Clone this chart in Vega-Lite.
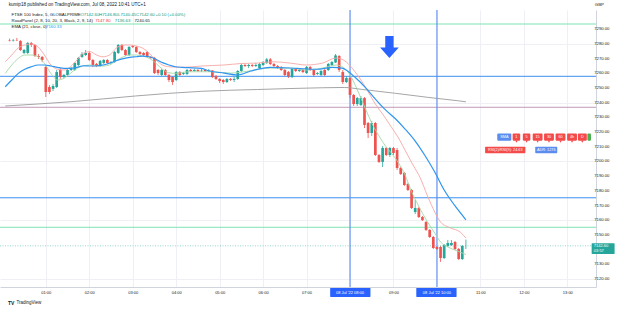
{
"$schema": "https://vega.github.io/schema/vega-lite/v6.json",
"width": 596, "height": 277,
"autosize": "none",
"padding": {"left": 0, "top": 10, "right": 29, "bottom": 23},
"background": "#ffffff",
"config": {"font": "Liberation Sans", "view": {"stroke": null}},
"resolve": {"scale": {"color": "independent"}},
"datasets": {
"candles": [
{"t":10,"o":7282.7,"h":7283.7,"l":7281.7,"c":7282.4},
{"t":15,"o":7282.4,"h":7283.4,"l":7281.7,"c":7282.7},
{"t":20,"o":7282.7,"h":7284.1,"l":7282.0,"c":7282.6},
{"t":25,"o":7282.0,"h":7282.7,"l":7275.2,"c":7275.9},
{"t":30,"o":7273.9,"h":7276.6,"l":7273.2,"c":7275.9},
{"t":35,"o":7273.9,"h":7281.4,"l":7273.2,"c":7280.7},
{"t":40,"o":7280.7,"h":7281.4,"l":7277.9,"c":7279.3},
{"t":45,"o":7279.3,"h":7280.0,"l":7271.2,"c":7271.8},
{"t":50,"o":7271.8,"h":7273.2,"l":7269.8,"c":7271.2},
{"t":55,"o":7271.2,"h":7271.8,"l":7267.7,"c":7269.1},
{"t":60,"o":7264.3,"h":7265.0,"l":7243.9,"c":7247.3},
{"t":65,"o":7250.7,"h":7252.1,"l":7245.9,"c":7247.3},
{"t":70,"o":7249.4,"h":7252.8,"l":7248.0,"c":7251.4},
{"t":75,"o":7250.7,"h":7262.3,"l":7250.0,"c":7260.9},
{"t":80,"o":7262.3,"h":7263.6,"l":7256.2,"c":7257.5},
{"t":85,"o":7257.5,"h":7259.6,"l":7256.8,"c":7258.9},
{"t":90,"o":7258.9,"h":7263.0,"l":7258.2,"c":7262.3},
{"t":95,"o":7262.3,"h":7264.3,"l":7261.6,"c":7263.0},
{"t":100,"o":7262.3,"h":7267.7,"l":7261.6,"c":7267.1},
{"t":105,"o":7265.7,"h":7271.2,"l":7265.0,"c":7270.5},
{"t":110,"o":7271.2,"h":7274.5,"l":7270.5,"c":7273.2},
{"t":115,"o":7272.5,"h":7275.9,"l":7271.8,"c":7273.9},
{"t":120,"o":7273.9,"h":7275.2,"l":7268.4,"c":7269.1},
{"t":125,"o":7269.1,"h":7269.8,"l":7264.3,"c":7265.7},
{"t":130,"o":7266.4,"h":7267.1,"l":7264.3,"c":7265.0},
{"t":135,"o":7265.0,"h":7269.1,"l":7264.3,"c":7268.4},
{"t":140,"o":7267.1,"h":7269.8,"l":7266.4,"c":7269.1},
{"t":145,"o":7269.1,"h":7269.8,"l":7266.4,"c":7267.1},
{"t":150,"o":7267.1,"h":7268.4,"l":7266.4,"c":7267.7},
{"t":155,"o":7267.7,"h":7275.2,"l":7267.1,"c":7274.5},
{"t":160,"o":7273.9,"h":7280.0,"l":7273.2,"c":7279.3},
{"t":165,"o":7279.3,"h":7280.0,"l":7275.2,"c":7275.9},
{"t":170,"o":7275.9,"h":7276.6,"l":7271.8,"c":7272.5},
{"t":175,"o":7272.5,"h":7278.6,"l":7271.8,"c":7277.9},
{"t":180,"o":7278.6,"h":7279.3,"l":7277.3,"c":7277.9},
{"t":185,"o":7277.9,"h":7278.6,"l":7273.9,"c":7274.5},
{"t":190,"o":7274.5,"h":7275.2,"l":7272.5,"c":7273.2},
{"t":195,"o":7273.9,"h":7274.5,"l":7271.8,"c":7272.5},
{"t":200,"o":7274.5,"h":7275.2,"l":7270.5,"c":7271.2},
{"t":205,"o":7271.2,"h":7271.8,"l":7269.8,"c":7270.5},
{"t":210,"o":7270.5,"h":7271.2,"l":7259.6,"c":7260.2},
{"t":215,"o":7262.3,"h":7263.0,"l":7258.9,"c":7260.2},
{"t":220,"o":7258.9,"h":7263.0,"l":7258.2,"c":7262.3},
{"t":225,"o":7262.3,"h":7263.0,"l":7258.2,"c":7258.9},
{"t":230,"o":7258.9,"h":7259.6,"l":7254.1,"c":7255.5},
{"t":235,"o":7257.5,"h":7258.2,"l":7252.1,"c":7254.1},
{"t":240,"o":7255.5,"h":7261.6,"l":7254.8,"c":7260.9},
{"t":245,"o":7260.9,"h":7261.6,"l":7258.2,"c":7258.9},
{"t":250,"o":7259.6,"h":7260.9,"l":7258.9,"c":7260.2},
{"t":255,"o":7259.6,"h":7263.0,"l":7258.9,"c":7262.3},
{"t":260,"o":7262.3,"h":7263.0,"l":7260.9,"c":7261.6},
{"t":265,"o":7261.6,"h":7263.0,"l":7261.3,"c":7262.3},
{"t":270,"o":7262.3,"h":7263.0,"l":7260.9,"c":7261.6},
{"t":275,"o":7261.6,"h":7263.0,"l":7260.9,"c":7261.9},
{"t":280,"o":7262.3,"h":7263.0,"l":7260.9,"c":7261.6},
{"t":285,"o":7261.6,"h":7263.0,"l":7260.9,"c":7261.9},
{"t":290,"o":7261.9,"h":7262.3,"l":7256.8,"c":7257.5},
{"t":295,"o":7258.2,"h":7258.9,"l":7255.5,"c":7256.2},
{"t":300,"o":7256.2,"h":7256.8,"l":7253.4,"c":7254.8},
{"t":305,"o":7255.5,"h":7256.2,"l":7252.8,"c":7254.1},
{"t":310,"o":7254.1,"h":7256.8,"l":7253.4,"c":7256.2},
{"t":315,"o":7256.2,"h":7256.8,"l":7254.8,"c":7255.5},
{"t":320,"o":7255.5,"h":7257.5,"l":7254.1,"c":7256.2},
{"t":325,"o":7256.2,"h":7262.3,"l":7255.5,"c":7261.6},
{"t":330,"o":7261.6,"h":7266.4,"l":7260.9,"c":7265.7},
{"t":335,"o":7265.7,"h":7266.4,"l":7264.3,"c":7265.0},
{"t":340,"o":7265.0,"h":7266.4,"l":7263.6,"c":7265.7},
{"t":345,"o":7265.7,"h":7266.4,"l":7264.3,"c":7265.0},
{"t":350,"o":7265.0,"h":7267.1,"l":7264.3,"c":7265.7},
{"t":355,"o":7263.6,"h":7267.1,"l":7263.0,"c":7266.4},
{"t":360,"o":7265.7,"h":7268.4,"l":7265.0,"c":7267.7},
{"t":365,"o":7267.1,"h":7270.5,"l":7266.4,"c":7269.5},
{"t":370,"o":7269.5,"h":7270.5,"l":7265.7,"c":7266.4},
{"t":375,"o":7266.4,"h":7267.1,"l":7264.3,"c":7265.0},
{"t":380,"o":7265.0,"h":7265.7,"l":7263.0,"c":7264.3},
{"t":385,"o":7264.3,"h":7265.0,"l":7261.6,"c":7262.3},
{"t":390,"o":7262.3,"h":7263.0,"l":7258.2,"c":7258.9},
{"t":395,"o":7260.9,"h":7261.6,"l":7256.8,"c":7257.9},
{"t":400,"o":7257.5,"h":7263.6,"l":7256.8,"c":7263.0},
{"t":405,"o":7263.0,"h":7263.6,"l":7260.9,"c":7261.6},
{"t":410,"o":7261.6,"h":7263.0,"l":7260.9,"c":7262.3},
{"t":415,"o":7262.3,"h":7263.0,"l":7260.2,"c":7260.9},
{"t":420,"o":7260.2,"h":7265.0,"l":7259.6,"c":7264.3},
{"t":425,"o":7264.3,"h":7265.0,"l":7261.6,"c":7262.3},
{"t":430,"o":7262.3,"h":7263.0,"l":7257.5,"c":7258.9},
{"t":435,"o":7259.6,"h":7260.9,"l":7258.9,"c":7260.2},
{"t":440,"o":7258.9,"h":7262.3,"l":7258.2,"c":7261.6},
{"t":445,"o":7262.3,"h":7263.0,"l":7258.2,"c":7258.9},
{"t":450,"o":7262.3,"h":7267.1,"l":7261.6,"c":7266.4},
{"t":455,"o":7265.7,"h":7268.4,"l":7265.0,"c":7267.7},
{"t":460,"o":7267.4,"h":7273.2,"l":7267.1,"c":7272.2},
{"t":465,"o":7271.8,"h":7272.5,"l":7260.9,"c":7262.3},
{"t":470,"o":7260.9,"h":7262.3,"l":7252.8,"c":7254.1},
{"t":475,"o":7254.1,"h":7258.2,"l":7253.4,"c":7256.8},
{"t":480,"o":7256.8,"h":7257.5,"l":7243.2,"c":7245.3},
{"t":485,"o":7245.3,"h":7245.9,"l":7237.8,"c":7239.1},
{"t":490,"o":7239.1,"h":7243.9,"l":7237.8,"c":7243.2},
{"t":495,"o":7238.5,"h":7244.6,"l":7237.8,"c":7243.2},
{"t":500,"o":7243.2,"h":7243.9,"l":7222.8,"c":7224.9},
{"t":505,"o":7226.2,"h":7226.9,"l":7216.0,"c":7219.4},
{"t":510,"o":7219.4,"h":7227.6,"l":7217.4,"c":7226.2},
{"t":515,"o":7226.2,"h":7226.9,"l":7203.7,"c":7204.4},
{"t":520,"o":7204.4,"h":7205.1,"l":7199.0,"c":7199.7},
{"t":525,"o":7199.7,"h":7210.5,"l":7196.2,"c":7209.2},
{"t":530,"o":7209.2,"h":7209.9,"l":7203.7,"c":7204.4},
{"t":535,"o":7204.4,"h":7209.9,"l":7203.1,"c":7209.2},
{"t":540,"o":7209.2,"h":7209.9,"l":7204.4,"c":7205.8},
{"t":545,"o":7207.8,"h":7209.2,"l":7194.2,"c":7195.6},
{"t":550,"o":7195.6,"h":7196.2,"l":7190.8,"c":7191.5},
{"t":555,"o":7192.2,"h":7192.9,"l":7183.3,"c":7184.0},
{"t":560,"o":7184.7,"h":7185.4,"l":7179.9,"c":7180.6},
{"t":565,"o":7180.6,"h":7181.3,"l":7167.7,"c":7168.3},
{"t":570,"o":7165.6,"h":7173.8,"l":7164.2,"c":7168.3},
{"t":575,"o":7168.3,"h":7169.0,"l":7161.5,"c":7162.2},
{"t":580,"o":7162.2,"h":7162.9,"l":7159.5,"c":7160.1},
{"t":585,"o":7158.8,"h":7159.5,"l":7152.7,"c":7153.4},
{"t":590,"o":7153.4,"h":7154.0,"l":7147.9,"c":7148.6},
{"t":595,"o":7148.6,"h":7149.3,"l":7140.4,"c":7141.1},
{"t":600,"o":7141.8,"h":7142.5,"l":7139.7,"c":7140.4},
{"t":605,"o":7141.8,"h":7142.5,"l":7131.6,"c":7134.3},
{"t":610,"o":7134.3,"h":7143.8,"l":7133.6,"c":7143.1},
{"t":615,"o":7142.5,"h":7146.5,"l":7141.8,"c":7144.5},
{"t":620,"o":7143.1,"h":7146.5,"l":7142.5,"c":7144.5},
{"t":625,"o":7145.2,"h":7145.9,"l":7139.7,"c":7140.4},
{"t":630,"o":7140.4,"h":7141.1,"l":7132.9,"c":7133.6},
{"t":635,"o":7133.6,"h":7143.1,"l":7132.9,"c":7142.5},
{"t":640,"o":7142.6,"h":7146.8,"l":7140.45,"c":7142.6}
],
"ind": [
{"s":"ema","t":4,"v":7250.9},{"s":"ema","t":13,"v":7255.5},{"s":"ema","t":22,"v":7260.0},{"s":"ema","t":31,"v":7262.8},{"s":"ema","t":40,"v":7264.5},{"s":"ema","t":49,"v":7265.7},{"s":"ema","t":58,"v":7265.7},{"s":"ema","t":67,"v":7265.0},{"s":"ema","t":76,"v":7264.1},{"s":"ema","t":85,"v":7263.4},{"s":"ema","t":94,"v":7263.4},{"s":"ema","t":103,"v":7264.1},{"s":"ema","t":112,"v":7265.2},{"s":"ema","t":121,"v":7265.0},{"s":"ema","t":130,"v":7265.0},{"s":"ema","t":139,"v":7265.7},{"s":"ema","t":148,"v":7266.9},{"s":"ema","t":157,"v":7268.6},{"s":"ema","t":167,"v":7270.0},{"s":"ema","t":176,"v":7270.9},{"s":"ema","t":185,"v":7271.3},{"s":"ema","t":194,"v":7271.8},{"s":"ema","t":203,"v":7271.3},{"s":"ema","t":212,"v":7269.6},{"s":"ema","t":221,"v":7267.3},{"s":"ema","t":230,"v":7265.7},{"s":"ema","t":239,"v":7264.5},{"s":"ema","t":248,"v":7264.1},{"s":"ema","t":257,"v":7263.9},{"s":"ema","t":275,"v":7263.4},{"s":"ema","t":285,"v":7261.8},{"s":"ema","t":306,"v":7260.2},{"s":"ema","t":325,"v":7258.9},{"s":"ema","t":343,"v":7261.6},{"s":"ema","t":370,"v":7264.1},{"s":"ema","t":407,"v":7263.4},{"s":"ema","t":434,"v":7262.8},{"s":"ema","t":456,"v":7264.1},{"s":"ema","t":469,"v":7263.6},{"s":"ema","t":488,"v":7256.8},{"s":"ema","t":502,"v":7250.0},{"s":"ema","t":515,"v":7242.5},{"s":"ema","t":529,"v":7235.1},{"s":"ema","t":543,"v":7228.9},{"s":"ema","t":556,"v":7222.1},{"s":"ema","t":570,"v":7213.9},{"s":"ema","t":583,"v":7204.4},{"s":"ema","t":597,"v":7192.8},{"s":"ema","t":610,"v":7180.6},{"s":"ema","t":624,"v":7170.4},{"s":"ema","t":640,"v":7160.33},
{"s":"up","t":4,"v":7267.9},{"s":"up","t":13,"v":7272.5},{"s":"up","t":22,"v":7277.3},{"s":"up","t":31,"v":7279.3},{"s":"up","t":40,"v":7280.0},{"s":"up","t":49,"v":7278.2},{"s":"up","t":58,"v":7272.5},{"s":"up","t":67,"v":7265.7},{"s":"up","t":76,"v":7262.8},{"s":"up","t":85,"v":7262.3},{"s":"up","t":94,"v":7264.5},{"s":"up","t":103,"v":7269.1},{"s":"up","t":112,"v":7273.7},{"s":"up","t":121,"v":7274.8},{"s":"up","t":130,"v":7272.5},{"s":"up","t":139,"v":7271.3},{"s":"up","t":148,"v":7272.5},{"s":"up","t":157,"v":7277.1},{"s":"up","t":167,"v":7279.3},{"s":"up","t":176,"v":7279.3},{"s":"up","t":185,"v":7278.6},{"s":"up","t":194,"v":7277.1},{"s":"up","t":203,"v":7273.7},{"s":"up","t":212,"v":7269.1},{"s":"up","t":221,"v":7265.7},{"s":"up","t":230,"v":7264.5},{"s":"up","t":248,"v":7264.1},{"s":"up","t":275,"v":7265.0},{"s":"up","t":306,"v":7265.7},{"s":"up","t":330,"v":7266.7},{"s":"up","t":352,"v":7267.0},{"s":"up","t":374,"v":7267.9},{"s":"up","t":397,"v":7267.0},{"s":"up","t":420,"v":7265.7},{"s":"up","t":442,"v":7267.0},{"s":"up","t":461,"v":7270.5},{"s":"up","t":475,"v":7267.7},{"s":"up","t":485,"v":7262.3},{"s":"up","t":495,"v":7255.5},{"s":"up","t":506,"v":7246.6},{"s":"up","t":515,"v":7239.1},{"s":"up","t":526,"v":7231.6},{"s":"up","t":537,"v":7223.5},{"s":"up","t":547,"v":7216.0},{"s":"up","t":558,"v":7205.8},{"s":"up","t":567,"v":7197.6},{"s":"up","t":577,"v":7188.8},{"s":"up","t":587,"v":7176.5},{"s":"up","t":597,"v":7165.6},{"s":"up","t":605,"v":7158.8},{"s":"up","t":619,"v":7154.7},{"s":"up","t":632,"v":7152.0},{"s":"up","t":640,"v":7147.8},
{"s":"dn","t":4,"v":7260.0},{"s":"dn","t":13,"v":7265.7},{"s":"dn","t":22,"v":7270.2},{"s":"dn","t":31,"v":7272.5},{"s":"dn","t":40,"v":7272.5},{"s":"dn","t":49,"v":7271.3},{"s":"dn","t":58,"v":7266.9},{"s":"dn","t":67,"v":7260.0},{"s":"dn","t":76,"v":7255.5},{"s":"dn","t":85,"v":7256.6},{"s":"dn","t":94,"v":7260.0},{"s":"dn","t":103,"v":7263.4},{"s":"dn","t":112,"v":7265.0},{"s":"dn","t":121,"v":7265.7},{"s":"dn","t":130,"v":7265.0},{"s":"dn","t":139,"v":7265.0},{"s":"dn","t":148,"v":7265.7},{"s":"dn","t":157,"v":7268.6},{"s":"dn","t":167,"v":7271.3},{"s":"dn","t":176,"v":7272.5},{"s":"dn","t":185,"v":7272.5},{"s":"dn","t":194,"v":7271.8},{"s":"dn","t":203,"v":7270.2},{"s":"dn","t":212,"v":7266.9},{"s":"dn","t":221,"v":7262.8},{"s":"dn","t":230,"v":7260.4},{"s":"dn","t":239,"v":7260.0},{"s":"dn","t":257,"v":7261.1},{"s":"dn","t":289,"v":7261.1},{"s":"dn","t":316,"v":7260.2},{"s":"dn","t":343,"v":7261.8},{"s":"dn","t":370,"v":7263.6},{"s":"dn","t":397,"v":7263.6},{"s":"dn","t":420,"v":7262.3},{"s":"dn","t":442,"v":7263.6},{"s":"dn","t":461,"v":7265.7},{"s":"dn","t":475,"v":7262.3},{"s":"dn","t":483,"v":7256.2},{"s":"dn","t":492,"v":7246.6},{"s":"dn","t":502,"v":7235.1},{"s":"dn","t":510,"v":7226.2},{"s":"dn","t":520,"v":7217.4},{"s":"dn","t":529,"v":7210.5},{"s":"dn","t":537,"v":7205.8},{"s":"dn","t":547,"v":7199.0},{"s":"dn","t":556,"v":7190.8},{"s":"dn","t":564,"v":7180.6},{"s":"dn","t":574,"v":7170.4},{"s":"dn","t":587,"v":7158.8},{"s":"dn","t":597,"v":7151.3},{"s":"dn","t":605,"v":7145.2},{"s":"dn","t":615,"v":7141.8},{"s":"dn","t":628,"v":7139.1},{"s":"dn","t":640,"v":7136.63},
{"s":"sma","t":4,"v":7237.8},{"s":"sma","t":95,"v":7240.7},{"s":"sma","t":184,"v":7244.6},{"s":"sma","t":275,"v":7247.8},{"s":"sma","t":352,"v":7249.0},{"s":"sma","t":442,"v":7250.2},{"s":"sma","t":472,"v":7250.4},{"s":"sma","t":496,"v":7249.1},{"s":"sma","t":543,"v":7246.4},{"s":"sma","t":587,"v":7243.7},{"s":"sma","t":628,"v":7241.4},{"s":"sma","t":640,"v":7240.65}
],
"levels": [
{"p":7293.6,"k":"g"},{"p":7258.0,"k":"b"},{"p":7236.9,"k":"m"},{"p":7175.3,"k":"b"},{"p":7155.2,"k":"g"}
],
"ylabels": [
{"p":7120},{"p":7130},{"p":7150},{"p":7160},{"p":7170},{"p":7180},{"p":7190},{"p":7200},{"p":7210},{"p":7220},{"p":7230},{"p":7240},{"p":7250},{"p":7260},{"p":7270},{"p":7280},{"p":7290}
],
"badges": [
{"t1":683.3,"t2":702.7,"tc":693.0,"p1":7219.0,"p2":7214.2,"pc":7216.6,"label":"SMA","k":"b","row":1},
{"t1":704.5,"t2":715.0,"tc":709.75,"p1":7219.0,"p2":7214.2,"pc":7216.6,"label":"1","k":"r","row":1},
{"t1":718.6,"t2":729.0,"tc":723.8,"p1":7219.0,"p2":7214.2,"pc":7216.6,"label":"5","k":"r","row":1},
{"t1":732.2,"t2":745.8,"tc":739.0,"p1":7219.0,"p2":7214.2,"pc":7216.6,"label":"15","k":"r","row":1},
{"t1":747.9,"t2":761.5,"tc":754.7,"p1":7219.0,"p2":7214.2,"pc":7216.6,"label":"30","k":"r","row":1},
{"t1":763.8,"t2":777.4,"tc":770.6,"p1":7219.0,"p2":7214.2,"pc":7216.6,"label":"60","k":"r","row":1},
{"t1":779.7,"t2":793.3,"tc":786.5,"p1":7219.0,"p2":7214.2,"pc":7216.6,"label":"4h","k":"r","row":1},
{"t1":794.6,"t2":806.9,"tc":800.75,"p1":7219.0,"p2":7214.2,"pc":7216.6,"label":"D","k":"r","row":1},
{"t1":807.7,"t2":812.7,"tc":810.2,"p1":7219.0,"p2":7214.2,"pc":7216.6,"label":"","k":"g","row":1},
{"t1":666.5,"t2":722.1,"tc":694.3,"p1":7210.1,"p2":7205.6,"pc":7207.85,"label":"RSI(2)/RSI(9): 24.63","k":"r","row":2},
{"t1":735.7,"t2":766.1,"tc":750.9,"p1":7210.1,"p2":7205.6,"pc":7207.85,"label":"ADR: 1276","k":"b","row":2}
],
"leg": [
{"t":8.7,"p":7306.5,"text":"kumip18 published on TradingView.com, Jul 08, 2022 10:41 UTC+1","k":"d","f":"h"},
{"t":12.8,"p":7299.7,"text":"FTSE 100 Index, 5, GLOBALPRIME","k":"d","f":"l"},
{"t":107.8,"p":7299.7,"text":"O7142.60","k":"g","f":"l"},
{"t":133.6,"p":7299.7,"text":"H7146.80","k":"g","f":"l"},
{"t":159.8,"p":7299.7,"text":"L7140.45","k":"g","f":"l"},
{"t":184.6,"p":7299.7,"text":"C7142.60","k":"g","f":"l"},
{"t":211.4,"p":7299.7,"text":"+0.10 (+0.00%)","k":"g","f":"l"},
{"t":12.8,"p":7295.9,"text":"RoadPanel (2, 8, 10, 20, 3, Black, 2, 9, 14)","k":"d","f":"l"},
{"t":128.1,"p":7295.9,"text":"7147.80","k":"r","f":"l"},
{"t":155.3,"p":7295.9,"text":"7136.63","k":"g","f":"l"},
{"t":182.4,"p":7295.9,"text":"7240.65","k":"d","f":"l"},
{"t":12.8,"p":7291.4,"text":"EMA (21, close, 0)","k":"d","f":"l"},
{"t":60.3,"p":7291.4,"text":"7160.33","k":"b","f":"l"},
{"t":818.0,"p":7306.5,"text":"GBP","k":"d","f":"l"}
],
"timeboxes": [
{"t1":452.6,"t2":508.2,"tc":480,"p1":7113.9,"p2":7107.7,"pc":7110.8,"text":"08 Jul '22  08:00"},
{"t1":571.5,"t2":627.1,"tc":600,"p1":7113.9,"p2":7107.7,"pc":7110.8,"text":"08 Jul '22  10:00"}
]
},
"layer": [
{"data": {"name": "candles"}, "mark": {"type": "rule", "strokeWidth": 0.8},
 "encoding": {
  "x": {"field": "t", "type": "quantitative", "scale": {"domain": [3.67, 812.7], "nice": false, "zero": false},
        "axis": {"values": [60,120,180,240,300,360,420,480,540,600,660,720,780], "labelExpr": "(datum.value == 480 || datum.value == 600) ? '' : ((datum.value < 600 ? '0' : '') + floor(datum.value / 60) + ':00')", "grid": true, "gridColor": "#eef0f5", "ticks": false, "labelPadding": 3, "labelFontSize": 4, "labelColor": "#131722", "labelFlush": false, "labelOverlap": false, "domain": true, "domainColor": "#d1d4dc", "title": null}},
  "y": {"field": "l", "type": "quantitative", "scale": {"domain": [7114.55, 7303.14], "nice": false, "zero": false},
        "axis": {"orient": "right", "values": [7120,7130,7140,7150,7160,7170,7180,7190,7200,7210,7220,7230,7240,7250,7260,7270,7280,7290], "labels": false, "grid": true, "gridColor": "#eef0f5", "ticks": false, "domain": true, "domainColor": "#d1d4dc", "title": null}},
  "y2": {"field": "h"},
  "color": {"condition": {"test": "datum.c >= datum.o", "value": "#26a69a"}, "value": "#ef5350"}}},
{"data": {"name": "levels"}, "mark": {"type": "rule", "strokeWidth": 1},
 "encoding": {
  "y": {"field": "p", "type": "quantitative", "title": null},
  "color": {"field": "k", "type": "nominal", "scale": {"domain": ["g","b","m"], "range": ["#7fe3b3","#3d8ff0","#c49bb9"]}, "legend": null}}},
{"data": {"values": [{"t": 480}, {"t": 600}]}, "mark": {"type": "rule", "color": "#5b8cf2", "strokeWidth": 1.1},
 "encoding": {"x": {"field": "t", "type": "quantitative", "title": null}}},
{"data": {"values": [{"p": 7142.6}]}, "mark": {"type": "rule", "color": "#26a69a", "strokeDash": [1, 1.5], "strokeWidth": 0.8, "opacity": 0.6},
 "encoding": {"y": {"field": "p", "type": "quantitative", "title": null}}},
{"data": {"name": "candles"}, "mark": {"type": "bar", "size": 2.7},
 "encoding": {
  "x": {"field": "t", "type": "quantitative", "title": null},
  "y": {"field": "o", "type": "quantitative", "title": null},
  "y2": {"field": "c"},
  "color": {"condition": {"test": "datum.c >= datum.o", "value": "#26a69a"}, "value": "#ef5350"}}},
{"data": {"name": "ind"}, "transform": [{"filter": "datum.s != 'ema'"}], "mark": {"type": "line", "strokeWidth": 0.9, "interpolate": "monotone"},
 "encoding": {
  "x": {"field": "t", "type": "quantitative", "title": null},
  "y": {"field": "v", "type": "quantitative", "title": null},
  "color": {"field": "s", "type": "nominal", "scale": {"domain": ["sma","up","dn"], "range": ["#9b9b9b","#f6a7a5","#a4d7a6"]}, "legend": null}}},
{"data": {"name": "ind"}, "transform": [{"filter": "datum.s == 'ema'"}], "mark": {"type": "line", "strokeWidth": 1.2, "color": "#2f95f0", "interpolate": "monotone"},
 "encoding": {
  "x": {"field": "t", "type": "quantitative", "title": null},
  "y": {"field": "v", "type": "quantitative", "title": null}}},
{"data": {"values": [{"t": 534.4, "p": 7277.9}]}, "mark": {"type": "point", "shape": "M-0.38,-1L0.38,-1L0.38,0.05L0.85,0.05L0,1L-0.85,0.05L-0.38,0.05Z", "size": 484, "filled": true, "color": "#2962ff", "opacity": 1, "strokeWidth": 0},
 "encoding": {
  "x": {"field": "t", "type": "quantitative", "title": null},
  "y": {"field": "p", "type": "quantitative", "title": null}}},
{"data": {"name": "ylabels"}, "mark": {"type": "text", "color": "#131722", "fontSize": 4.2, "align": "left", "baseline": "middle"},
 "encoding": {
  "x": {"datum": 817.2, "type": "quantitative"},
  "y": {"field": "p", "type": "quantitative", "title": null},
  "text": {"field": "p", "type": "quantitative", "format": ".2f"}}},
{"data": {"name": "badges"}, "mark": {"type": "rect", "cornerRadius": 0.8},
 "encoding": {
  "x": {"field": "t1", "type": "quantitative", "title": null},
  "x2": {"field": "t2"},
  "y": {"field": "p1", "type": "quantitative", "title": null},
  "y2": {"field": "p2"},
  "color": {"field": "k", "type": "nominal", "scale": {"domain": ["b","r","g"], "range": ["#5b8def","#f44a4a","#4caf50"]}, "legend": null}}},
{"data": {"name": "badges"}, "transform": [{"filter": "datum.row == 1 && datum.k == 'r'"}], "mark": {"type": "point", "shape": "triangle-down", "size": 6, "filled": true, "color": "#f44a4a", "opacity": 1},
 "encoding": {
  "x": {"field": "tc", "type": "quantitative", "title": null},
  "y": {"datum": 7213.5, "type": "quantitative"}}},
{"data": {"name": "badges"}, "mark": {"type": "text", "color": "#ffffff", "fontSize": 3.8, "align": "center", "baseline": "middle"},
 "encoding": {
  "x": {"field": "tc", "type": "quantitative", "title": null},
  "y": {"field": "pc", "type": "quantitative", "title": null},
  "text": {"field": "label"}}},
{"data": {"name": "leg"}, "mark": {"type": "text", "align": "left", "baseline": "middle"},
 "encoding": {
  "x": {"field": "t", "type": "quantitative", "title": null},
  "y": {"field": "p", "type": "quantitative", "title": null},
  "text": {"field": "text"},
  "size": {"field": "f", "type": "nominal", "scale": {"domain": ["h","l"], "range": [4.6, 4.3]}, "legend": null},
  "color": {"field": "k", "type": "nominal", "scale": {"domain": ["d","g","r","b"], "range": ["#131722","#089981","#f23645","#2196f3"]}, "legend": null}}},
{"data": {"name": "timeboxes"}, "mark": {"type": "rect", "color": "#2962ff", "cornerRadius": 0.5},
 "encoding": {
  "x": {"field": "t1", "type": "quantitative", "title": null},
  "x2": {"field": "t2"},
  "y": {"field": "p1", "type": "quantitative", "title": null},
  "y2": {"field": "p2"}}},
{"data": {"name": "timeboxes"}, "mark": {"type": "text", "color": "#ffffff", "fontSize": 4, "align": "center", "baseline": "middle"},
 "encoding": {
  "x": {"field": "tc", "type": "quantitative", "title": null},
  "y": {"field": "pc", "type": "quantitative", "title": null},
  "text": {"field": "text"}}},
{"data": {"values": [{"t1": 813.6, "t2": 845.3, "p1": 7144.3, "p2": 7137.0}]}, "mark": {"type": "rect", "color": "#26a69a", "cornerRadius": 0.5},
 "encoding": {
  "x": {"field": "t1", "type": "quantitative", "title": null},
  "x2": {"field": "t2"},
  "y": {"field": "p1", "type": "quantitative", "title": null},
  "y2": {"field": "p2"}}},
{"data": {"values": [{"t": 816.6, "p": 7142.4, "text": "7142.60"}, {"t": 816.6, "p": 7139.1, "text": "03:57"}]}, "mark": {"type": "text", "color": "#ffffff", "fontSize": 4, "align": "left", "baseline": "middle"},
 "encoding": {
  "x": {"field": "t", "type": "quantitative", "title": null},
  "y": {"field": "p", "type": "quantitative", "title": null},
  "text": {"field": "text"}}},
{"data": {"values": [{"t": 7.7, "p": 7103.8, "text": "TV"}]}, "mark": {"type": "text", "color": "#131722", "fontSize": 5, "fontWeight": "bold", "align": "left", "baseline": "middle"},
 "encoding": {
  "x": {"field": "t", "type": "quantitative", "title": null},
  "y": {"field": "p", "type": "quantitative", "title": null},
  "text": {"field": "text"}}},
{"data": {"values": [{"t": 19.5, "p": 7103.8, "text": "TradingView"}]}, "mark": {"type": "text", "color": "#131722", "fontSize": 4.5, "align": "left", "baseline": "middle"},
 "encoding": {
  "x": {"field": "t", "type": "quantitative", "title": null},
  "y": {"field": "p", "type": "quantitative", "title": null},
  "text": {"field": "text"}}}
]
}
